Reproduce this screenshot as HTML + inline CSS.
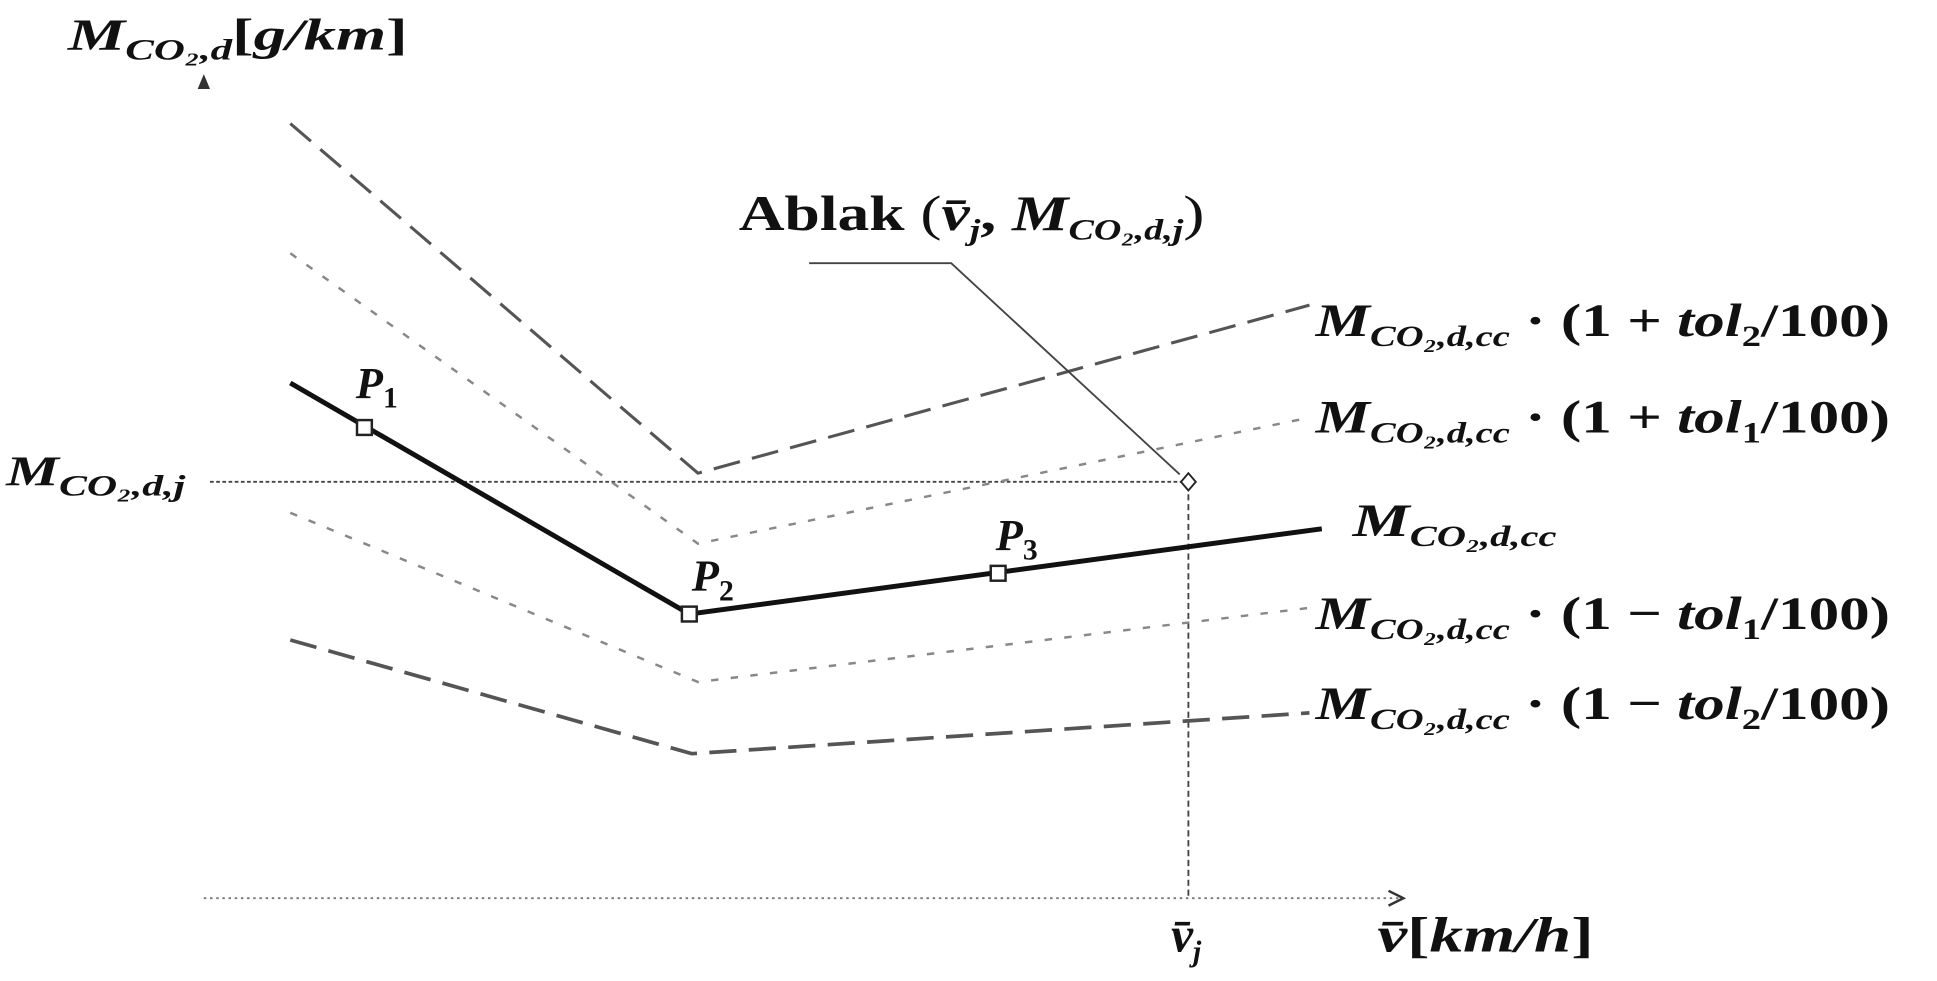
<!DOCTYPE html>
<html><head><style>
html,body{margin:0;padding:0;background:#fff;}
svg{display:block;}
text{font-family:"Liberation Serif",serif;font-weight:bold;font-style:italic;fill:#111;}
.n{font-style:normal;}
</style></head><body>
<svg width="1937" height="981" viewBox="0 0 1568 794" preserveAspectRatio="none" xmlns="http://www.w3.org/2000/svg">
<line x1="165" y1="727" x2="1133" y2="727" stroke="#777" stroke-width="1.5" stroke-dasharray="2,3"/>
<path d="M1124,721 L1136,727 L1124,733" fill="none" stroke="#333" stroke-width="2"/>
<path d="M160,72 L165,60 L170,72 Z" fill="#333"/>
<line x1="170" y1="390" x2="962" y2="390" stroke="#444" stroke-width="1.5" stroke-dasharray="3,2"/>
<line x1="962" y1="392" x2="962" y2="727" stroke="#444" stroke-width="1.5" stroke-dasharray="5,3"/>
<polyline points="235,100 565,383 1060,247" fill="none" stroke="#555" stroke-width="2.5" stroke-dasharray="22,10"/>
<polyline points="235,205 565,440 1060,338" fill="none" stroke="#888" stroke-width="2" stroke-dasharray="6,10"/>
<polyline points="235,415 565,552 1060,492" fill="none" stroke="#888" stroke-width="2" stroke-dasharray="6,10"/>
<polyline points="235,518 560,610 1060,577" fill="none" stroke="#555" stroke-width="3" stroke-dasharray="22,10"/>
<polyline points="235,310 558,497 1070,428" fill="none" stroke="#111" stroke-width="4"/>
<rect x="289" y="340" width="12" height="12" fill="#fff" stroke="#222" stroke-width="2"/>
<rect x="552" y="491" width="12" height="12" fill="#fff" stroke="#222" stroke-width="2"/>
<rect x="802" y="458" width="12" height="12" fill="#fff" stroke="#222" stroke-width="2"/>
<polyline points="655,213 770,213 955,384" fill="none" stroke="#444" stroke-width="1.5"/>
<path d="M962,383 L968,390 L962,397 L956,390 Z" fill="#fff" stroke="#222" stroke-width="1.5"/>
<text x="55" y="40" font-size="36" textLength="275" lengthAdjust="spacingAndGlyphs">M<tspan font-size="24" dy="8">CO₂,d</tspan><tspan dy="-8" class="n">[</tspan>g/km<tspan class="n">]</tspan></text>
<text x="5" y="393" font-size="34" textLength="145" lengthAdjust="spacingAndGlyphs">M<tspan font-size="24" dy="8">CO₂,d,j</tspan></text>
<text x="288" y="322" font-size="36">P<tspan font-size="24" dy="8" class="n">1</tspan></text>
<text x="560" y="478" font-size="36">P<tspan font-size="24" dy="8" class="n">2</tspan></text>
<text x="806" y="445" font-size="36">P<tspan font-size="24" dy="8" class="n">3</tspan></text>
<text x="598" y="186" font-size="40" class="n" textLength="377" lengthAdjust="spacingAndGlyphs">Ablak <tspan font-weight="normal">(</tspan><tspan font-style="italic">v̄</tspan><tspan font-size="24" dy="8" font-style="italic">j</tspan><tspan dy="-8">, </tspan><tspan font-style="italic">M</tspan><tspan font-size="24" dy="8" font-style="italic">CO₂,d,j</tspan><tspan dy="-8" font-weight="normal">)</tspan></text>
<text x="1065" y="272" font-size="38" textLength="465" lengthAdjust="spacingAndGlyphs">M<tspan font-size="24" dy="8">CO₂,d,cc</tspan><tspan dy="-8" class="n"> · (1 + </tspan>tol<tspan font-size="24" dy="8" class="n">2</tspan><tspan dy="-8" class="n">/100)</tspan></text>
<text x="1065" y="350" font-size="38" textLength="465" lengthAdjust="spacingAndGlyphs">M<tspan font-size="24" dy="8">CO₂,d,cc</tspan><tspan dy="-8" class="n"> · (1 + </tspan>tol<tspan font-size="24" dy="8" class="n">1</tspan><tspan dy="-8" class="n">/100)</tspan></text>
<text x="1095" y="434" font-size="38" textLength="165" lengthAdjust="spacingAndGlyphs">M<tspan font-size="24" dy="8">CO₂,d,cc</tspan></text>
<text x="1065" y="509" font-size="38" textLength="465" lengthAdjust="spacingAndGlyphs">M<tspan font-size="24" dy="8">CO₂,d,cc</tspan><tspan dy="-8" class="n"> · (1 − </tspan>tol<tspan font-size="24" dy="8" class="n">1</tspan><tspan dy="-8" class="n">/100)</tspan></text>
<text x="1065" y="582" font-size="38" textLength="465" lengthAdjust="spacingAndGlyphs">M<tspan font-size="24" dy="8">CO₂,d,cc</tspan><tspan dy="-8" class="n"> · (1 − </tspan>tol<tspan font-size="24" dy="8" class="n">2</tspan><tspan dy="-8" class="n">/100)</tspan></text>
<text x="948" y="770" font-size="40">v̄<tspan font-size="24" dy="8">j</tspan></text>
<text x="1115" y="770" font-size="40" textLength="175" lengthAdjust="spacingAndGlyphs">v̄<tspan class="n">[</tspan>km/h<tspan class="n">]</tspan></text>
</svg>
</body></html>
